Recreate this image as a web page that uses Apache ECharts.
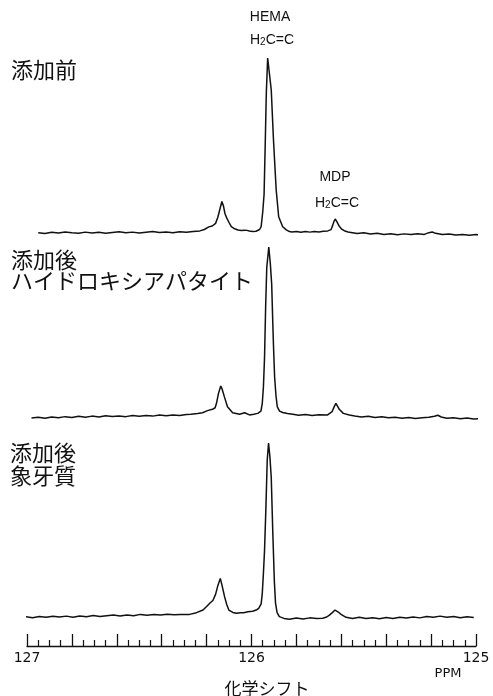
<!DOCTYPE html>
<html>
<head>
<meta charset="utf-8">
<script src="https://cdn.jsdelivr.net/npm/echarts@6/dist/echarts.min.js"></script>
<style>
  html, body { margin: 0; padding: 0; background: #fff; }
  #chart { width: 493px; height: 696px; }
</style>
</head>
<body>
<div id="chart"></div>
<script>
// 1H NMR spectra of the vinyl (H2C=C) region, chemical shift in ppm vs intensity (% of HEMA peak)

// Before addition
const spectrumBefore = [
  [126.95,0.2],[126.92,-0.3],[126.89,0.4],[126.86,0.0],[126.83,0.6],[126.80,0.1],[126.77,-0.2],
  [126.74,0.5],[126.71,0.0],[126.68,0.4],[126.65,-0.1],[126.62,0.3],[126.59,0.7],[126.56,0.2],
  [126.53,0.5],[126.50,0.0],[126.47,0.4],[126.44,0.8],[126.41,0.3],[126.38,0.6],[126.35,0.2],
  [126.32,0.7],[126.29,0.4],[126.26,0.9],[126.23,1.2],[126.21,2.0],[126.19,3.5],[126.175,4.0],
  [126.16,5.5],[126.15,9.0],[126.14,14.0],[126.132,18.0],[126.125,15.5],[126.118,11.0],[126.11,8.5],
  [126.10,6.0],[126.09,3.6],[126.075,2.4],[126.06,1.7],[126.045,1.4],[126.03,1.6],[126.02,1.5],
  [126.01,1.1],[125.995,0.8],[125.98,1.0],[125.972,1.2],[125.964,2.0],[125.957,3.6],[125.950,12],
  [125.944,22],[125.939,50],[125.934,80],[125.928,100],[125.921,92],[125.912,81.7],[125.902,53],
  [125.890,24.6],[125.879,9.3],[125.861,3.6],[125.845,1.8],[125.831,0.8],[125.82,0.6],[125.80,0.9],
  [125.78,0.4],[125.76,0.8],[125.74,0.5],[125.72,0.9],[125.70,0.6],[125.68,1.0],[125.66,1.2],
  [125.646,1.9],[125.638,4.5],[125.632,6.8],[125.627,8.0],[125.62,6.5],[125.609,3.8],[125.598,2.2],
  [125.587,1.3],[125.57,0.6],[125.55,0.2],[125.53,-0.3],[125.50,0.1],[125.47,-0.6],[125.44,-0.2],
  [125.41,-0.8],[125.38,-0.4],[125.35,-1.0],[125.32,-0.5],[125.29,-0.9],[125.26,-0.4],[125.23,-0.8],
  [125.21,0.2],[125.195,0.6],[125.18,-0.2],[125.15,-0.9],[125.12,-0.6],[125.09,-1.2],[125.06,-0.8],
  [125.03,-1.3],[125.00,-0.9],[124.96,-1.2]
];

// After addition, hydroxyapatite
const spectrumHydroxyapatite = [
  [126.98,0.0],[126.95,0.5],[126.92,-0.2],[126.89,0.6],[126.86,0.2],[126.83,0.8],[126.80,0.3],
  [126.77,1.0],[126.74,0.5],[126.71,1.1],[126.68,0.6],[126.65,1.3],[126.62,0.9],[126.59,1.2],
  [126.56,0.8],[126.53,1.5],[126.50,1.0],[126.47,1.4],[126.44,1.1],[126.41,1.7],[126.38,1.3],
  [126.35,1.8],[126.32,1.5],[126.29,2.0],[126.27,2.2],[126.24,2.6],[126.218,3.1],[126.196,4.3],
  [126.174,5.1],[126.162,6.0],[126.156,8.6],[126.147,14.4],[126.137,18.7],[126.131,17.0],
  [126.121,12.5],[126.107,6.6],[126.084,3.1],[126.053,2.2],[126.031,3.1],[126.009,1.8],
  [125.990,2.2],[125.972,2.7],[125.958,4.0],[125.952,8.6],[125.947,18],[125.942,35],[125.937,65],
  [125.932,88],[125.923,100],[125.916,90],[125.910,78],[125.905,55],[125.902,42],[125.897,24],
  [125.891,13],[125.885,6.5],[125.875,4.0],[125.861,3.2],[125.84,2.6],[125.816,2.2],[125.79,1.6],
  [125.76,2.0],[125.73,1.5],[125.70,1.9],[125.661,1.8],[125.641,3.7],[125.632,6.5],[125.624,8.6],
  [125.617,7.0],[125.609,5.1],[125.591,2.7],[125.564,1.8],[125.54,1.2],[125.51,0.6],[125.48,1.0],
  [125.45,0.3],[125.42,0.7],[125.39,0.1],[125.36,0.5],[125.33,-0.1],[125.30,0.3],[125.27,-0.3],
  [125.24,0.2],[125.21,0.4],[125.185,1.0],[125.17,1.6],[125.155,0.6],[125.13,-0.2],[125.10,0.2],
  [125.07,-0.4],[125.04,0.0],[125.01,-0.6],[124.98,-0.3]
];

// After addition, dentin
const spectrumDentin = [
  [127.005,0.2],[126.975,-0.4],[126.945,0.3],[126.915,-0.2],[126.885,0.4],[126.855,0.0],
  [126.825,0.5],[126.795,-0.1],[126.765,0.6],[126.735,0.2],[126.705,0.8],[126.675,0.3],
  [126.645,0.7],[126.615,1.1],[126.585,0.6],[126.555,1.2],[126.525,0.7],[126.495,1.5],
  [126.465,1.0],[126.435,1.4],[126.405,1.1],[126.375,1.6],[126.345,1.3],[126.315,1.5],
  [126.276,1.5],[126.245,2.5],[126.216,4.0],[126.200,6.0],[126.186,7.9],[126.172,9.5],
  [126.160,13],[126.150,18],[126.139,22.2],[126.131,18],[126.120,11.7],[126.110,7.0],
  [126.101,4.0],[126.083,2.6],[126.068,2.1],[126.05,2.5],[126.035,2.4],[126.016,3.0],
  [125.995,3.3],[125.979,4.0],[125.968,5.0],[125.957,7.5],[125.952,13.6],[125.947,25],
  [125.942,38],[125.936,62],[125.930,90],[125.924,100],[125.918,92],[125.912,80],[125.905,48],
  [125.898,20],[125.893,8],[125.886,2.5],[125.876,0.2],[125.855,-0.8],[125.831,-1.3],
  [125.80,-0.6],[125.77,-1.1],[125.74,-0.5],[125.71,-0.9],[125.683,-0.7],[125.665,0.0],
  [125.653,1.1],[125.64,2.5],[125.628,4.0],[125.615,3.0],[125.601,1.5],[125.579,-0.2],
  [125.55,-0.8],[125.52,-0.2],[125.49,-0.9],[125.46,-0.4],[125.43,-1.0],[125.40,-0.3],
  [125.37,-0.8],[125.34,-0.2],[125.31,-0.6],[125.28,0.0],[125.25,-0.5],[125.22,0.3],
  [125.19,-0.1],[125.16,0.5],[125.13,-0.2],[125.10,0.3],[125.07,-0.4],[125.04,0.1],[125.01,-0.3]
];

// Shift axis range and tick labels
const shiftMin = 125;
const shiftMax = 127;
const majorStep = 0.2;
const tickLabels = ['125', '126', '127'];

const PLOT_LEFT = 27, PLOT_RIGHT = 17;
const traces = [
  { data: spectrumBefore, top: 58, height: 192.5 },
  { data: spectrumHydroxyapatite, top: 247, height: 188.1 },
  { data: spectrumDentin, top: 443, height: 191.4 }
];

const INK = '#111';
const grids = [], xAxes = [], yAxes = [], series = [];

traces.forEach((t, i) => {
  grids.push({ left: PLOT_LEFT, right: PLOT_RIGHT, top: t.top, height: t.height });
  xAxes.push({ type: 'value', gridIndex: i, min: shiftMin, max: shiftMax, inverse: true, show: false });
  yAxes.push({ type: 'value', gridIndex: i, min: -10, max: 100, show: false });
  series.push({
    type: 'line', xAxisIndex: i, yAxisIndex: i, data: t.data,
    showSymbol: false, symbol: 'none', clip: false, smooth: false, silent: true,
    lineStyle: { color: INK, width: 1.5 }
  });
});

// Shared shift axis: line at the bottom, major and minor ticks pointing up, labels below
grids.push({ left: PLOT_LEFT, right: PLOT_RIGHT, top: 600, height: 46 });
xAxes.push({
  type: 'value', gridIndex: 3, min: shiftMin, max: shiftMax, inverse: true, interval: majorStep,
  position: 'bottom',
  axisLine: { show: true, lineStyle: { color: INK, width: 1.3 } },
  axisTick: { show: true, inside: true, length: 12, lineStyle: { color: INK, width: 1.3 } },
  minorTick: { show: true, splitNumber: 4, length: 6, lineStyle: { color: INK, width: 1.2 } },
  splitLine: { show: false },
  axisLabel: {
    margin: 5, color: INK, fontFamily: 'DejaVu Sans', fontSize: 14,
    showMinLabel: true, showMaxLabel: true,
    formatter: v => {
      const r = Math.round(v);
      return Math.abs(v - r) < 1e-6 && tickLabels.indexOf(String(r)) >= 0 ? String(r) : '';
    }
  }
});
yAxes.push({ type: 'value', gridIndex: 3, show: false });

const jp = { fontFamily: 'Noto Sans CJK JP', fontSize: 22, fill: INK, textVerticalAlign: 'middle' };
const lat = { fontFamily: 'Liberation Sans', fontSize: 14, fill: INK, textAlign: 'center', textVerticalAlign: 'middle' };
const rich = { s: { fontFamily: 'Liberation Sans', fontSize: 10, fill: INK, verticalAlign: 'bottom', padding: [4, 0, 0, 0] } };

function jpText(text, x, y) { return { type: 'text', x: x, y: y, style: Object.assign({ text }, jp) }; }
function latText(text, cx, cy) { return { type: 'text', x: cx, y: cy, style: Object.assign({ text }, lat) }; }
function vinylText(cx, cy) {
  return {
    type: 'text', x: cx, y: cy,
    style: Object.assign({ text: 'H{s|2}C=C', rich: rich }, lat)
  };
}

const chart = echarts.init(document.getElementById('chart'), null, { renderer: 'canvas' });
chart.setOption({
  animation: false,
  backgroundColor: '#fff',
  grid: grids,
  xAxis: xAxes,
  yAxis: yAxes,
  series: series,
  graphic: [
    latText('HEMA', 270, 17),
    vinylText(272, 40),
    latText('MDP', 335, 177),
    vinylText(337, 203),
    jpText('添加前', 11, 70),
    jpText('添加後', 11, 260),
    jpText('ハイドロキシアパタイト', 11, 281),
    jpText('添加後', 10, 453),
    jpText('象牙質', 10, 476),
    { type: 'text', x: 448, y: 674, style: { text: 'PPM', fontFamily: 'DejaVu Sans', fontSize: 13, fill: INK, textAlign: 'center', textVerticalAlign: 'middle' } },
    { type: 'text', x: 267, y: 689, style: { text: '化学シフト', fontFamily: 'Noto Sans CJK JP', fontSize: 17, fill: INK, textAlign: 'center', textVerticalAlign: 'middle' } }
  ]
});
</script>
</body>
</html>
